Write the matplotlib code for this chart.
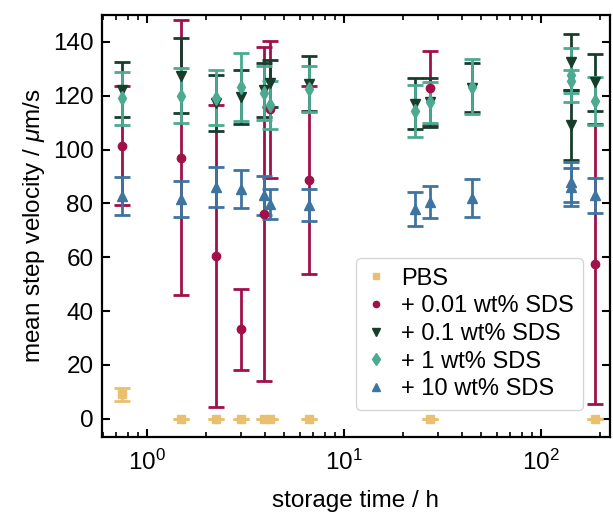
import matplotlib
matplotlib.use("Agg")
import matplotlib.pyplot as plt
from matplotlib.lines import Line2D

plt.rcParams['font.family'] = ['Liberation Sans', 'DejaVu Sans']
plt.rcParams['mathtext.fontset'] = 'custom'
plt.rcParams['mathtext.it'] = 'Liberation Sans:italic'
plt.rcParams['mathtext.rm'] = 'Liberation Sans'

# storage time (h), mean velocity, error
pbs_t = [0.75, 1.49, 2.24, 3.0, 3.95, 4.2, 6.7, 27.3, 188]
pbs_v = [9.1, 0, 0, 0, 0, 0, 0, 0, 0]
pbs_e = [2.5, 0, 0, 0, 0, 0, 0, 0, 0]

sds001_t = [0.75, 1.49, 2.24, 3.0, 3.95, 4.2, 6.7, 27.3, 188]
sds001_v = [101.5, 97, 60.4, 33.3, 76, 115, 88.8, 123, 57.5]
sds001_e = [22, 51, 56, 15, 62, 25.5, 35, 13.7, 52]

sds01_t = [0.75, 1.49, 2.24, 3.0, 3.95, 4.2, 6.7, 22.9, 27.3, 45, 143, 143, 188]
sds01_v = [122.3, 127.5, 117.3, 119.6, 122, 124.6, 124.5, 117, 117.5, 123, 132.5, 109, 125]
sds01_e = [10.2, 14, 10.4, 10, 10, 8.7, 10.3, 9.5, 9, 9, 10.5, 13, 10.6]

sds1_t = [0.75, 1.49, 2.24, 3.0, 3.95, 4.2, 6.7, 22.9, 27.3, 45, 143, 143, 188]
sds1_v = [119, 120, 119.3, 123.3, 121, 116.5, 122.5, 114.3, 117.5, 123.3, 127.7, 125.3, 118]
sds1_e = [9.7, 10.3, 10.2, 12.5, 10, 9, 8.5, 9.7, 7.6, 10.2, 10.2, 4.2, 9]

sds10_t = [0.75, 1.49, 2.24, 3.0, 3.95, 4.2, 6.7, 22.9, 27.3, 45, 143, 143, 188]
sds10_v = [82.7, 81.7, 86, 85.4, 83, 79.8, 79.3, 78, 80.6, 82, 88, 86, 83]
sds10_e = [7.1, 6.8, 7.4, 7.1, 7.2, 5.7, 6, 6.3, 6, 7, 7.5, 7, 6.5]

series = [
    ("PBS", pbs_t, pbs_v, pbs_e, "#E9C06F", "s", 6),
    ("+ 0.01 wt% SDS", sds001_t, sds001_v, sds001_e, "#A0104A", "o", 6),
    ("+ 0.1 wt% SDS", sds01_t, sds01_v, sds01_e, "#173D2B", "v", 7),
    ("+ 1 wt% SDS", sds1_t, sds1_v, sds1_e, "#4BAA90", "d", 7.5),
    ("+ 10 wt% SDS", sds10_t, sds10_v, sds10_e, "#3E74A0", "^", 7),
]

fig = plt.figure(figsize=(6.13, 5.17), dpi=100)
ax = fig.add_axes([0.166, 0.155, 0.829, 0.816])

handles = []
for name, t, v, e, c, m, ms in series:
    ax.errorbar(t, v, yerr=e, fmt=m, color=c, ms=ms, elinewidth=2,
                capsize=5.5, capthick=2)
    handles.append(Line2D([], [], ls="none", marker=m, color=c, ms=ms - 1.5, label=name))

ax.set_xscale("log")
ax.set_xlim(0.59, 225)
ax.set_ylim(-6.7, 150)
ax.set_yticks([0, 20, 40, 60, 80, 100, 120, 140])

ax.tick_params(which="both", direction="in", top=True, right=True, labelsize=17.5)
ax.tick_params(which="major", length=6, width=1.5, pad=6)
ax.tick_params(axis="x", which="major", pad=9)
ax.tick_params(which="minor", length=3.5, width=1.2)
for s in ax.spines.values():
    s.set_linewidth(1.6)

ax.set_xlabel("storage time / h", fontsize=17.5, labelpad=11)
ax.set_ylabel(r"mean step velocity / $\mu$m/s", fontsize=17.5)

ax.legend(handles=handles, loc="lower right", bbox_to_anchor=(0.947, 0.064),
          borderaxespad=0, fontsize=17, handlelength=0.9, handletextpad=0.6,
          labelspacing=0.24, borderpad=0.4, framealpha=0.8, edgecolor="#cccccc")

fig.savefig("out.png", dpi=100)
